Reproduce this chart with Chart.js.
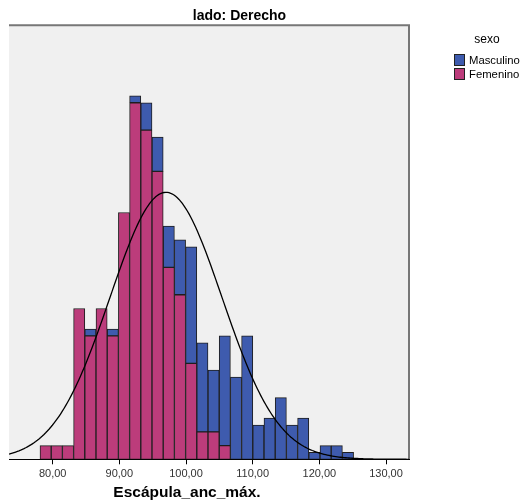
<!DOCTYPE html>
<html>
<head>
<meta charset="utf-8">
<script src="https://cdn.jsdelivr.net/npm/chart.js@4.4.1/dist/chart.umd.min.js"></script>
<style>
  body { margin: 0; background: #fff; font-family: "Liberation Sans", Arial, sans-serif; }
  #wrap { position: relative; width: 525px; height: 502px; }
  #box { position: absolute; left: 0; top: 0; width: 478px; height: 502px; }
  .lg-title { position: absolute; left: 455px; width: 64px; top: 32px; font-size: 12px; line-height: 14px; text-align: center; }
  .lg-item { position: absolute; left: 454px; height: 13px; line-height: 13px; font-size: 11.3px; white-space: nowrap; }
  .lg-item span { display: inline-block; width: 9px; height: 10px; border: 1px solid #222; vertical-align: -2px; margin-right: 4px; }
</style>
</head>
<body>
<div id="wrap">
  <div id="box"><canvas id="hist"></canvas></div>
  <div class="lg-title">sexo</div>
  <div class="lg-item" style="top:54px"><span style="background:#3e5bae"></span>Masculino</div>
  <div class="lg-item" style="top:68px"><span style="background:#bc3c7b"></span>Femenino</div>
</div>
<script>
// bin midpoints (bin width ~1.68)
const binMid = [78.94, 80.62, 82.30, 83.98, 85.66, 87.34, 89.02, 90.70, 92.38, 94.06,
  95.74, 97.42, 99.10, 100.78, 102.46, 104.14, 105.82, 107.50, 109.18, 110.86,
  112.54, 114.22, 115.90, 117.58, 119.26, 120.94, 122.62, 124.30];
const femenino = [2, 2, 2, 22, 18, 22, 18, 36, 52, 48, 42, 28, 24, 14, 4, 4, 2, 0,
  0, 0, 0, 0, 0, 0, 0, 0, 0, 0];
const masculino = [0, 0, 0, 0, 1, 0, 1, 0, 1, 4, 5, 6, 8, 17, 13, 9, 16, 12,
  18, 5, 6, 9, 5, 6, 1, 2, 2, 1];
const xTicks = [80, 90, 100, 110, 120, 130];

// normal curve parameters (fitted over all 488 cases)
const curveMean = 97.0;
const curveSd = 8.4;
const nTotal = 488;
const binWidth = 1.68;

const FONT = '"Liberation Sans", Arial, sans-serif';

const curve = [];
for (let x = 73.45; x <= 133.46; x += 0.25) {
  const z = (x - curveMean) / curveSd;
  curve.push({ x, y: nTotal * binWidth / (curveSd * Math.sqrt(2 * Math.PI)) * Math.exp(-0.5 * z * z) });
}

// grey plot panel, frame and the two titles
const plotFrame = {
  id: 'plotFrame',
  beforeDraw(chart) {
    const { ctx, chartArea: a } = chart;
    ctx.save();
    ctx.fillStyle = '#f0f0f0';
    ctx.fillRect(a.left, a.top, a.right - a.left, a.bottom - a.top);
    ctx.strokeStyle = '#777';
    ctx.lineWidth = 2;
    ctx.beginPath();
    ctx.moveTo(a.left, a.top);
    ctx.lineTo(a.right, a.top);
    ctx.lineTo(a.right, a.bottom);
    ctx.stroke();
    ctx.restore();
  },
  afterDraw(chart) {
    const ctx = chart.ctx;
    ctx.save();
    ctx.fillStyle = '#000';
    ctx.textAlign = 'center';
    ctx.textBaseline = 'middle';
    ctx.font = 'bold 14px ' + FONT;
    ctx.fillText('lado: Derecho', 239.5, 16);
    ctx.font = 'bold 15.5px ' + FONT;
    ctx.fillText('Escápula_anc_máx.', 187, 493);
    ctx.restore();
  }
};

new Chart(document.getElementById('hist').getContext('2d'), {
  type: 'bar',
  data: {
    datasets: [{
      type: 'line',
      label: 'Normal',
      data: curve,
      borderColor: '#000',
      borderWidth: 1.3,
      pointRadius: 0,
      tension: 0,
      fill: false,
      stack: 'curve',
      order: 0
    }, {
      label: 'Femenino',
      data: binMid.map((x, i) => ({ x, y: femenino[i] })),
      backgroundColor: '#bc3c7b',
      borderColor: '#1e1e1e',
      borderWidth: 1,
      borderSkipped: false,
      barPercentage: 1,
      categoryPercentage: 1,
      order: 1
    }, {
      label: 'Masculino',
      data: binMid.map((x, i) => ({ x, y: masculino[i] })),
      backgroundColor: '#3e5bae',
      borderColor: '#1e1e1e',
      borderWidth: 1,
      borderSkipped: false,
      barPercentage: 1,
      categoryPercentage: 1,
      order: 1
    }]
  },
  options: {
    responsive: true,
    maintainAspectRatio: false,
    animation: false,
    layout: { padding: { left: 9, right: 69, top: 25.3, bottom: 18.5 } },
    plugins: {
      legend: { display: false },
      tooltip: { enabled: false },
      title: { display: false }
    },
    scales: {
      x: {
        type: 'linear',
        min: 73.45,
        max: 133.45,
        stacked: true,
        offset: false,
        afterBuildTicks: s => { s.ticks = xTicks.map(v => ({ value: v })); },
        grid: { display: true, offset: false, drawOnChartArea: false, drawTicks: true, tickLength: 5, color: '#000' },
        border: { display: true, color: '#000', width: 1 },
        ticks: {
          color: '#333',
          font: { family: FONT, size: 11 },
          padding: 3,
          maxRotation: 0,
          callback: v => v.toFixed(2).replace('.', ',')
        }
      },
      y: {
        display: false,
        stacked: true,
        min: 0,
        max: 63.3
      }
    }
  },
  plugins: [plotFrame]
});
</script>
</body>
</html>
